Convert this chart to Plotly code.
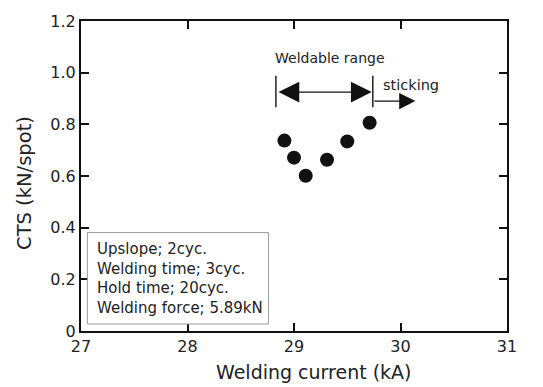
import plotly.graph_objects as go

# Data
current_kA = [28.91, 29.00, 29.11, 29.31, 29.50, 29.71]
cts_kN = [0.737, 0.671, 0.601, 0.663, 0.734, 0.806]

x_ticks = [27, 28, 29, 30, 31]
y_ticks = [0, 0.2, 0.4, 0.6, 0.8, 1.0, 1.2]
y_tick_labels = ["0", "0.2", "0.4", "0.6", "0.8", "1.0", "1.2"]

weld_lo, weld_hi = 28.83, 29.74
range_y = 0.925
stick_y = 0.890
stick_end = 30.14
bar_y0, bar_y1 = 0.866, 0.988

cond_lines = ["Upslope; 2cyc.", "Welding time; 3cyc.", "Hold time; 20cyc.", "Welding force; 5.89kN"]

FONT = "DejaVu Sans, sans-serif"
TXT = "#222222"

fig = go.Figure()
fig.add_trace(go.Scatter(
    x=current_kA, y=cts_kN, mode="markers",
    marker=dict(size=14, color="#111111"),
    showlegend=False, hoverinfo="skip"))

axis_common = dict(
    showline=True, linecolor="#111111", linewidth=2, mirror="ticks",
    ticks="inside", ticklen=8, tickwidth=2, tickcolor="#111111",
    showgrid=False, zeroline=False,
    tickfont=dict(size=16, color=TXT, family=FONT),
)

fig.update_layout(
    width=543, height=387,
    margin=dict(l=81, r=36, t=15, b=56),
    paper_bgcolor="white", plot_bgcolor="white",
    font=dict(family=FONT, color=TXT),
    xaxis=dict(range=[27, 31], tickvals=x_ticks, **axis_common),
    yaxis=dict(range=[0, 1.2], tickvals=y_ticks, ticktext=y_tick_labels, **axis_common),
)

# Axis titles (placed as annotations to match the reference's offsets)
fig.add_annotation(x=29.19, y=0, xref="x", yref="paper", yanchor="top", yshift=-28,
                   text="Welding current (kA)", showarrow=False,
                   font=dict(size=19, color=TXT))
fig.add_annotation(x=0, y=0.573, xref="paper", yref="y", xanchor="center", xshift=-56,
                   text="CTS (kN/spot)", textangle=-90, showarrow=False,
                   font=dict(size=19.5, color=TXT))

# Vertical bars marking the weldable range
for xv in (weld_lo, weld_hi):
    fig.add_shape(type="line", xref="x", yref="y", x0=xv, x1=xv, y0=bar_y0, y1=bar_y1,
                  line=dict(color=TXT, width=1.5))

# Double-headed arrow for weldable range
fig.add_annotation(x=weld_hi - 0.01, y=range_y, ax=weld_lo + 0.01, ay=range_y,
                   xref="x", yref="y", axref="x", ayref="y", text="",
                   showarrow=True, arrowhead=2, startarrowhead=2, arrowside="end+start",
                   arrowsize=3.2, startarrowsize=3.2, arrowwidth=1.3, arrowcolor="#111111")
# Sticking arrow
fig.add_annotation(x=stick_end, y=stick_y, ax=weld_hi, ay=stick_y,
                   xref="x", yref="y", axref="x", ayref="y", text="",
                   showarrow=True, arrowhead=2, arrowsize=2.7, arrowwidth=1.2,
                   arrowcolor="#111111")

fig.add_annotation(x=29.34, y=1.058, xref="x", yref="y", text="Weldable range",
                   showarrow=False, font=dict(size=14, color=TXT))
fig.add_annotation(x=30.10, y=0.953, xref="x", yref="y", text="sticking",
                   showarrow=False, font=dict(size=14.5, color=TXT))

# Conditions box
fig.add_shape(type="rect", xref="x", yref="y", x0=27.06, x1=28.76, y0=0.027, y1=0.381,
              line=dict(color="#999999", width=1), fillcolor="white")
fig.add_annotation(x=27.13, y=0.204, xref="x", yref="y", xanchor="left", yanchor="middle",
                   text="<br>".join(cond_lines), align="left", showarrow=False,
                   font=dict(size=15, color=TXT))

fig.write_html("out.html")
